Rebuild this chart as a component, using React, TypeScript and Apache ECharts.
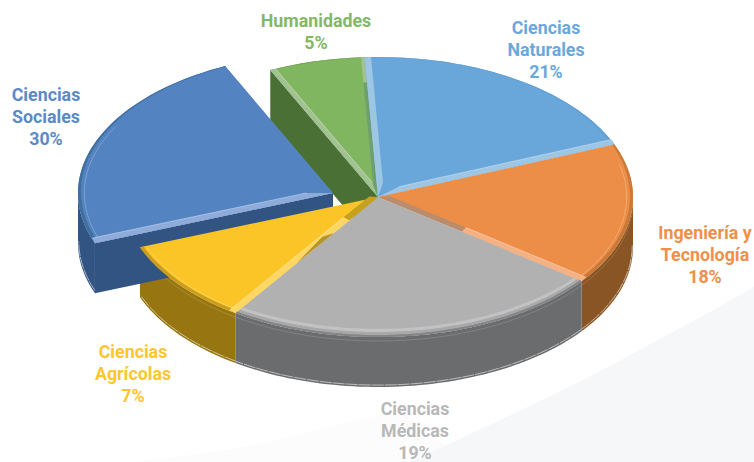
import React, { useEffect, useRef } from "react";
import * as echarts from "echarts";

// Slice order: clockwise on the ellipse, beginning with Ciencias Sociales.
const names = ["Ciencias\nSociales", "Humanidades", "Ciencias\nNaturales", "Ingeniería y\nTecnología", "Ciencias\nMédicas", "Ciencias\nAgrícolas"];
const percents = [30, 5, 21, 18, 19, 7];
// Sweep of each slice as drawn in the 3D picture (degrees on the ellipse).
const sweeps = [86, 22, 71, 59, 87, 35];
const firstSliceStart = 249;
const topColors = ["#5383c1", "#80b660", "#69a7da", "#ec8e47", "#b1b1b1", "#fbc527"];
const sideColors = ["#325482", "#4a7036", "#3f6f94", "#8a5524", "#6b6c6e", "#977612"];
const bevelColors = ["#8fabd9", "#a3c293", "#9dc5e4", "#f5b183", "#c9c9c9", "#fdd663"];
const rimColors = ["#41709f", "#6fa052", "#61a0d4", "#c97a3a", "#8c8d8f", "#c89d20"];
const labelColors = ["#5b8ac6", "#85b864", "#6aa8db", "#ee9048", "#b8b8b8", "#fcc62f"];
const labelX = [46, 316, 546, 705, 415, 133];
const labelY = [83, 9, 16, 221, 397, 340];
const explodeX = [-45, 0, 0, 0, 0, 0];
const explodeY = [-4, 0, 0, 0, 0, 0];

const CX = 378, CY = 197, RX = 255, RY = 140, DEPTH = 50;

type P = [number, number];
function pt(i: number, t: number, r = 1, dy = 0): P {
  const a = (t * Math.PI) / 180;
  return [CX + explodeX[i] + RX * r * Math.sin(a), CY + explodeY[i] - RY * r * Math.cos(a) + dy];
}
function arc(i: number, a: number, b: number, r: number | ((t: number) => number) = 1, dy = 0): P[] {
  const n = Math.max(2, Math.ceil(Math.abs(b - a) / 1.5));
  const out: P[] = [];
  for (let k = 0; k <= n; k++) {
    const t = a + ((b - a) * k) / n;
    out.push(pt(i, t, typeof r === "function" ? r(t) : r, dy));
  }
  return out;
}
function ranges() {
  let s = firstSliceStart;
  return sweeps.map((w) => {
    const r = [s, s + w];
    s += w;
    return r;
  });
}
function poly(points: P[], fill: any, opacity = 1) {
  return { type: "polygon", shape: { points }, style: { fill, stroke: "none", opacity }, silent: true };
}
function line(points: P[], stroke: string, lineWidth = 1, opacity = 1, lineDash?: number[]) {
  return { type: "polyline", shape: { points }, style: { fill: "none", stroke, lineWidth, opacity, lineDash }, silent: true };
}
// Overlap of [a,b] with the front half of the ring (visible outer wall).
function clip(a: number, b: number, from: number, to: number): P | null {
  for (const off of [0, 360]) {
    const lo = Math.max(a, from + off);
    const hi = Math.min(b, to + off);
    if (hi > lo) return [lo, hi];
  }
  return null;
}
// Bevel strip next to a radial edge of a slice.
function strip(i: number, t: number, dir: number, color: string, from: number, to: number, w = 0.025, hl = false) {
  const a = (t * Math.PI) / 180;
  const o = pt(i, t, from);
  const e = pt(i, t, to);
  const nx = Math.cos(a) * RX * w * dir;
  const ny = Math.sin(a) * RY * w * 1.3 * dir;
  const taper = from === 0 ? 0.1 : 0;
  const inner: P = [o[0] + (e[0] - o[0]) * taper + nx, o[1] + (e[1] - o[1]) * taper + ny];
  const outer: P = [e[0] + nx, e[1] + ny];
  const els: any[] = [poly([o, e, outer, inner], color)];
  if (hl) els.push(line([inner, outer], "#ffffff", 0.7, 0.5));
  return els;
}
const frontWeight = (t: number) => Math.max(0, -Math.cos((t * Math.PI) / 180));
const rimWidth = (t: number) => 0.004 + 0.016 * ((1 - Math.cos((t * Math.PI) / 180)) / 2);

function buildElements() {
  const rs = ranges();
  const walls: any[] = [];
  const tops: any[] = [];
  // Outer walls, painted back to front.
  [0, 1, 2, 3, 5, 4].forEach((i) => {
    const f = clip(rs[i][0], rs[i][1], 90, 270);
    if (!f) return;
    walls.push(poly([...arc(i, f[0], f[1]), ...arc(i, f[1], f[0], 1, DEPTH)], sideColors[i]));
    walls.push(line(arc(i, f[0], f[1], 0.997, DEPTH - 1.5), "#ffffff", 0.8, 0.7, [12, 1]));
    if (i !== 0) walls.push(line(arc(i, f[0], f[1], 1, 4), "#ffffff", 0.6, 0.25));
  });
  // Walls of the two exploded slices' cut edges.
  [1, 0].forEach((i) => {
    const t = rs[i][0];
    const o = pt(i, t, 0);
    const e = pt(i, t, 1);
    walls.push(poly([o, e, [e[0], e[1] + DEPTH], [o[0], o[1] + DEPTH]], sideColors[i]));
  });
  // Upper faces.
  [0, 1, 2, 3, 4, 5].forEach((i) => {
    const [a, b] = rs[i];
    const c = pt(i, a, 0);
    tops.push(poly([c, ...arc(i, a, b)], topColors[i]));
    // Rim band following the outer arc; wider towards the viewer.
    tops.push(poly([...arc(i, a, b, 1), ...arc(i, b, a, (t) => 1 - rimWidth(t))], rimColors[i]));
    const w = clip(a, b, 75, 300);
    if (w) tops.push(line(arc(i, w[0] + 1, w[1] - 1, 0.975), "#ffffff", 0.6, 0.4));
    if (i === 4) {
      const d1 = (t: number) => 1 - 0.008 - 0.05 * frontWeight(t);
      const d2 = (t: number) => 1 - 0.005 - 0.03 * frontWeight(t);
      const d3 = (t: number) => 1 - 0.002 - 0.012 * frontWeight(t);
      tops.push(poly([...arc(i, a, b, d2), ...arc(i, b, a, d1)], "#c2c2c2"));
      tops.push(poly([...arc(i, a, b, d3), ...arc(i, b, a, d2)], "#a9a9aa"));
      tops.push(poly([...arc(i, a, b, 1), ...arc(i, b, a, d3)], "#848587"));
    }
    // Bevels along the cut edges.
    if (i === 0) tops.push(...strip(i, a, 1, bevelColors[i], 0, 1, 0.03, true));
    if (i === 1) {
      tops.push(...strip(i, a, 1, bevelColors[i], 0, 1, 0.022, true));
      tops.push(...strip(i, b, -1, "#6e9f6e", 0, 0.82, 0.014));
      tops.push(...strip(i, b, -1, bevelColors[i], 0.82, 1, 0.014));
    }
    if (i === 2) {
      tops.push(...strip(i, a, 1, bevelColors[i], 0, 1, 0.025));
      tops.push(...strip(i, b, -1, bevelColors[i], 0, 1, 0.03, true));
    }
    if (i === 3) {
      tops.push(...strip(i, b, -1, bevelColors[i], 0.41, 1, 0.028, true));
      tops.push(...strip(i, b, -1, "#bb8c6c", 0, 0.41, 0.028));
    }
    if (i === 5) {
      tops.push(...strip(i, a, 1, bevelColors[i], 0.2, 1, 0.028, true));
      tops.push(...strip(i, a, 1, "#c6a11f", 0, 0.2, 0.028));
      tops.push(poly([pt(i, a, 0.57), pt(i, a, 0.31), pt(i, a + 3.5, 0.36)], "#b3952c"));
    }
  });
  return [...walls, ...tops];
}

export default function App() {
  const ref = useRef<HTMLDivElement>(null);
  useEffect(() => {
    const chart = echarts.init(ref.current!, undefined, { renderer: "svg" });
    chart.setOption({
      animation: false,
      backgroundColor: "#ffffff",
      graphic: [
        {
          type: "polygon",
          z: 0,
          silent: true,
          shape: { points: [[130, 462], [200, 454], [270, 442], [350, 422], [400, 410], [445, 446], [410, 462]] },
          style: { fill: "#fcfcfd" },
        },
        {
          type: "polygon",
          z: 0,
          silent: true,
          shape: {
            points: [
              [754, 287], [710, 312], [667, 335], [625, 358], [583, 380], [540, 401], [500, 420], [440, 448], [410, 462], [754, 462],
            ],
          },
          style: { fill: "#f6f7f9" },
        },
        ...names.map((n, i) => ({
          type: "text",
          z: 5,
          x: labelX[i],
          y: labelY[i],
          style: {
            text: `${n}\n${percents[i]}%`,
            fontFamily: "Roboto",
            fontWeight: "bold",
            fontSize: 17.8,
            lineHeight: 22,
            fill: labelColors[i],
            align: "center",
            textAlign: "center",
          },
        })),
      ],
      series: [
        {
          type: "custom",
          coordinateSystem: "none",
          z: 2,
          silent: true,
          data: [percents],
          renderItem: () => ({ type: "group", children: buildElements() }),
        },
      ],
    });
    return () => chart.dispose();
  }, []);
  return <div ref={ref} style={{ position: "fixed", left: 0, top: 0, width: 754, height: 462 }} />;
}
